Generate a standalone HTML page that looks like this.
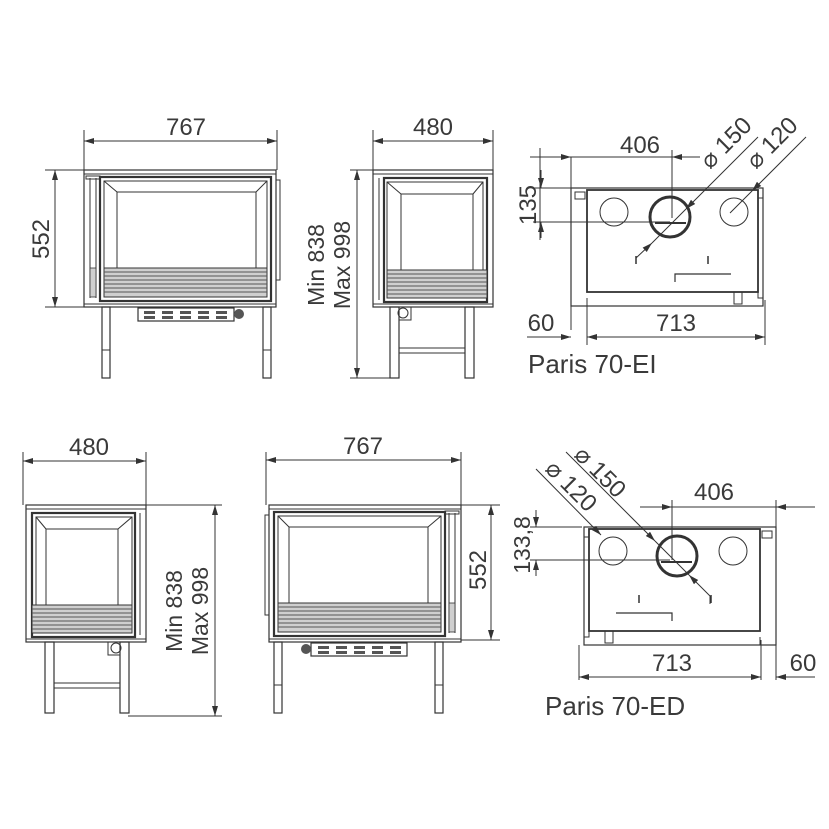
<!DOCTYPE html>
<html><head><meta charset="utf-8"><style>
html,body{margin:0;padding:0;background:#fff}
svg{display:block}
text{font-family:"Liberation Sans",sans-serif;fill:#3a3a3a}
</style></head><body>
<svg width="829" height="829" viewBox="0 0 829 829" xmlns="http://www.w3.org/2000/svg">
<defs>
<marker id="a" viewBox="0 0 10 6" refX="10" refY="3" markerWidth="14" markerHeight="6" markerUnits="userSpaceOnUse" orient="auto-start-reverse"><path d="M0,0 L10,3 L0,6 z" fill="#333"/></marker>
<g id="front" stroke="#333" fill="none">
  <rect x="0" y="0" width="192" height="137" stroke-width="1.2"/>
  <line x1="0" y1="4" x2="192" y2="4" stroke-width="1"/>
  <line x1="6" y1="8" x2="6" y2="128" stroke-width="1"/>
  <line x1="12" y1="8" x2="12" y2="128" stroke-width="1"/>
  <rect x="2" y="6" width="14" height="3" stroke-width="1"/>
  <rect x="16" y="7" width="171" height="124" stroke-width="2.2"/>
  <rect x="20" y="11" width="163" height="116" stroke-width="1"/>
  <rect x="33" y="22" width="139" height="76" stroke-width="1"/>
  <line x1="20" y1="11" x2="33" y2="22"/><line x1="183" y1="11" x2="172" y2="22"/>
  <rect x="20" y="98" width="163" height="29" fill="#cfcfcf" stroke-width="1"/>
  <path d="M20 102H183M20 106H183M20 110H183M20 114H183M20 118H183M20 122H183" stroke="#555" stroke-width="1"/>
  <rect x="6" y="98" width="6" height="29" fill="#cfcfcf" stroke-width="0.8"/>
  <rect x="192" y="10" width="4" height="100" stroke-width="1"/>
  <line x1="0" y1="134" x2="192" y2="134" stroke-width="1"/>
  <rect x="18" y="137" width="8" height="71" stroke-width="1.2"/>
  <rect x="179" y="137" width="8" height="71" stroke-width="1.2"/>
  <line x1="18" y1="180" x2="26" y2="180"/><line x1="179" y1="180" x2="187" y2="180"/>
  <rect x="54" y="138" width="96" height="13" stroke-width="1.2"/>
  <g fill="#555" stroke="none">
   <rect x="60" y="141" width="11" height="3"/><rect x="78" y="141" width="11" height="3"/><rect x="96" y="141" width="11" height="3"/><rect x="114" y="141" width="11" height="3"/><rect x="132" y="141" width="11" height="3"/>
   <rect x="60" y="146" width="11" height="3"/><rect x="78" y="146" width="11" height="3"/><rect x="96" y="146" width="11" height="3"/><rect x="114" y="146" width="11" height="3"/><rect x="132" y="146" width="11" height="3"/>
   <circle cx="155" cy="144" r="5"/>
  </g>
</g>
<g id="side" stroke="#333" fill="none">
  <rect x="0" y="0" width="120" height="137" stroke-width="1.2"/>
  <line x1="0" y1="4" x2="120" y2="4"/>
  <line x1="6" y1="8" x2="6" y2="130"/>
  <rect x="11" y="8" width="103" height="124" stroke-width="2.2"/>
  <rect x="14" y="12" width="96" height="116"/>
  <rect x="28" y="24" width="72" height="76"/>
  <line x1="14" y1="12" x2="28" y2="24"/><line x1="110" y1="12" x2="100" y2="24"/>
  <rect x="14" y="100" width="100" height="28" fill="#cfcfcf"/>
  <path d="M14 104H114M14 108H114M14 112H114M14 116H114M14 120H114M14 124H114" stroke="#555" stroke-width="1"/>
  <line x1="0" y1="134" x2="120" y2="134"/>
  <rect x="17" y="137" width="9" height="71" stroke-width="1.2"/>
  <rect x="92" y="137" width="9" height="71" stroke-width="1.2"/>
  <rect x="26" y="178" width="66" height="5"/>
  <circle cx="30" cy="143" r="5"/><rect x="26" y="137" width="12" height="13"/>
</g>
<g id="plan" stroke="#333" fill="none">
  <rect x="0" y="0" width="192" height="118" stroke-width="1.2"/>
  <rect x="16" y="2" width="171" height="102" stroke-width="1.8"/>
  <rect x="4" y="4" width="10" height="7"/>
  <rect x="187" y="10" width="5" height="100"/>
  <rect x="163" y="104" width="8" height="12"/>
  <line x1="16" y1="110" x2="16" y2="118"/>
  <circle cx="43" cy="24" r="14" stroke-width="1"/>
  <circle cx="99" cy="29" r="20" stroke-width="3"/>
  <line x1="84" y1="35" x2="115" y2="35" stroke-width="2"/>
  <circle cx="163" cy="24" r="14" stroke-width="1"/>
  <line x1="65" y1="68" x2="65" y2="76" stroke-width="1.5"/>
  <line x1="137" y1="68" x2="137" y2="76" stroke-width="1.5"/>
  <path d="M104 94V86H160" stroke-width="1.2"/>
</g>
</defs>

<use href="#front" x="84" y="170"/>
<use href="#side" x="373" y="170"/>
<use href="#plan" x="571" y="188"/>

<g stroke="#333" stroke-width="1" fill="none">
  <line x1="84" y1="130" x2="84" y2="170"/><line x1="277" y1="130" x2="277" y2="170"/>
  <line x1="84" y1="141" x2="277" y2="141" marker-start="url(#a)" marker-end="url(#a)"/>
  <line x1="45" y1="170" x2="84" y2="170"/><line x1="45" y1="307" x2="84" y2="307"/>
  <line x1="55" y1="170" x2="55" y2="307" marker-start="url(#a)" marker-end="url(#a)"/>
  <line x1="373" y1="130" x2="373" y2="170"/><line x1="493" y1="130" x2="493" y2="170"/>
  <line x1="373" y1="141" x2="493" y2="141" marker-start="url(#a)" marker-end="url(#a)"/>
  <line x1="350" y1="170" x2="373" y2="170"/><line x1="350" y1="378" x2="392" y2="378"/>
  <line x1="357" y1="170" x2="357" y2="378" marker-start="url(#a)" marker-end="url(#a)"/>
  <line x1="540" y1="148" x2="540" y2="240"/>
  <line x1="530" y1="157" x2="571" y2="157" marker-end="url(#a)"/>
  <line x1="571" y1="157" x2="571" y2="330"/>
  <line x1="571" y1="157" x2="672" y2="157"/>
  <line x1="672" y1="150" x2="672" y2="218"/>
  <line x1="672" y1="157" x2="700" y2="157" marker-start="url(#a)"/>
  <line x1="533" y1="188" x2="571" y2="188"/><line x1="533" y1="222" x2="670" y2="222"/>
  <line x1="541" y1="170" x2="541" y2="188" marker-end="url(#a)"/>
  <line x1="541" y1="238" x2="541" y2="222" marker-end="url(#a)"/>
  <line x1="587" y1="300" x2="587" y2="345"/><line x1="765" y1="300" x2="765" y2="345"/>
  <line x1="527" y1="337" x2="571" y2="337" marker-end="url(#a)"/>
  <line x1="587" y1="337" x2="765" y2="337" marker-start="url(#a)" marker-end="url(#a)"/>
  <line x1="758" y1="137" x2="686" y2="209" marker-end="url(#a)"/>
  <line x1="686" y1="209" x2="652" y2="243"/>
  <line x1="636" y1="258" x2="652" y2="243" marker-end="url(#a)"/>
  <line x1="636" y1="258" x2="636" y2="264"/>
  <line x1="806" y1="137" x2="752" y2="191" marker-end="url(#a)"/>
  <line x1="752" y1="191" x2="730" y2="213"/>
</g>
<text x="186" y="135" font-size="24" text-anchor="middle">767</text>
<text x="433" y="135" font-size="24" text-anchor="middle">480</text>
<text transform="translate(49,239) rotate(-90)" font-size="24" text-anchor="middle">552</text>
<text transform="translate(324,265) rotate(-90)" font-size="23" text-anchor="middle">Min 838</text>
<text transform="translate(350,265) rotate(-90)" font-size="23" text-anchor="middle">Max 998</text>
<text x="640" y="153" font-size="24" text-anchor="middle">406</text>
<text transform="translate(536,205) rotate(-90)" font-size="24" text-anchor="middle">135</text>
<text x="541" y="331" font-size="24" text-anchor="middle">60</text>
<text x="676" y="331" font-size="24" text-anchor="middle">713</text>
<text transform="translate(710,170) rotate(-45)" font-size="24">⌀ 150</text>
<text transform="translate(756,170) rotate(-45)" font-size="24">⌀ 120</text>
<text x="528" y="373" font-size="26">Paris 70-EI</text>

<use href="#side" transform="translate(146,505) scale(-1,1)"/>
<use href="#front" transform="translate(461,505) scale(-1,1)"/>
<use href="#plan" transform="translate(776,527) scale(-1,1)"/>

<g stroke="#333" stroke-width="1" fill="none">
  <line x1="23" y1="452" x2="23" y2="505"/><line x1="146" y1="452" x2="146" y2="505"/>
  <line x1="23" y1="461" x2="146" y2="461" marker-start="url(#a)" marker-end="url(#a)"/>
  <line x1="146" y1="505" x2="222" y2="505"/><line x1="128" y1="716" x2="222" y2="716"/>
  <line x1="215" y1="505" x2="215" y2="716" marker-start="url(#a)" marker-end="url(#a)"/>
  <line x1="266" y1="452" x2="266" y2="505"/><line x1="461" y1="452" x2="461" y2="505"/>
  <line x1="266" y1="460" x2="461" y2="460" marker-start="url(#a)" marker-end="url(#a)"/>
  <line x1="461" y1="505" x2="500" y2="505"/><line x1="461" y1="640" x2="500" y2="640"/>
  <line x1="491" y1="505" x2="491" y2="640" marker-start="url(#a)" marker-end="url(#a)"/>
  <line x1="640" y1="507" x2="672" y2="507" marker-end="url(#a)"/>
  <line x1="672" y1="507" x2="776" y2="507"/>
  <line x1="672" y1="500" x2="672" y2="560"/>
  <line x1="776" y1="500" x2="776" y2="680"/>
  <line x1="815" y1="507" x2="776" y2="507" marker-end="url(#a)"/>
  <line x1="530" y1="527" x2="582" y2="527"/><line x1="530" y1="560" x2="670" y2="560"/>
  <line x1="536" y1="510" x2="536" y2="527" marker-end="url(#a)"/>
  <line x1="536" y1="576" x2="536" y2="560" marker-end="url(#a)"/>
  <line x1="579" y1="645" x2="579" y2="680"/><line x1="761" y1="640" x2="761" y2="680"/>
  <line x1="579" y1="677" x2="761" y2="677" marker-start="url(#a)" marker-end="url(#a)"/>
  <line x1="815" y1="677" x2="776" y2="677" marker-end="url(#a)"/>
  <line x1="536" y1="469" x2="601" y2="535" marker-end="url(#a)"/>
  <line x1="566" y1="452" x2="655" y2="541" marker-end="url(#a)"/>
  <line x1="655" y1="541" x2="689" y2="575"/>
  <line x1="710" y1="596" x2="689" y2="575" marker-end="url(#a)"/>
  <line x1="710" y1="596" x2="710" y2="604"/>
</g>
<text x="89" y="455" font-size="24" text-anchor="middle">480</text>
<text x="363" y="454" font-size="24" text-anchor="middle">767</text>
<text transform="translate(182,611) rotate(-90)" font-size="23" text-anchor="middle">Min 838</text>
<text transform="translate(208,611) rotate(-90)" font-size="23" text-anchor="middle">Max 998</text>
<text transform="translate(486,570) rotate(-90)" font-size="24" text-anchor="middle">552</text>
<text x="714" y="500" font-size="24" text-anchor="middle">406</text>
<text transform="translate(530,545) rotate(-90)" font-size="23" text-anchor="middle">133,8</text>
<text x="672" y="671" font-size="24" text-anchor="middle">713</text>
<text x="803" y="671" font-size="24" text-anchor="middle">60</text>
<text transform="translate(573,456) rotate(45)" font-size="24">⌀ 150</text>
<text transform="translate(544,470) rotate(45)" font-size="24">⌀ 120</text>
<text x="545" y="715" font-size="26">Paris 70-ED</text>
</svg>
</body></html>
